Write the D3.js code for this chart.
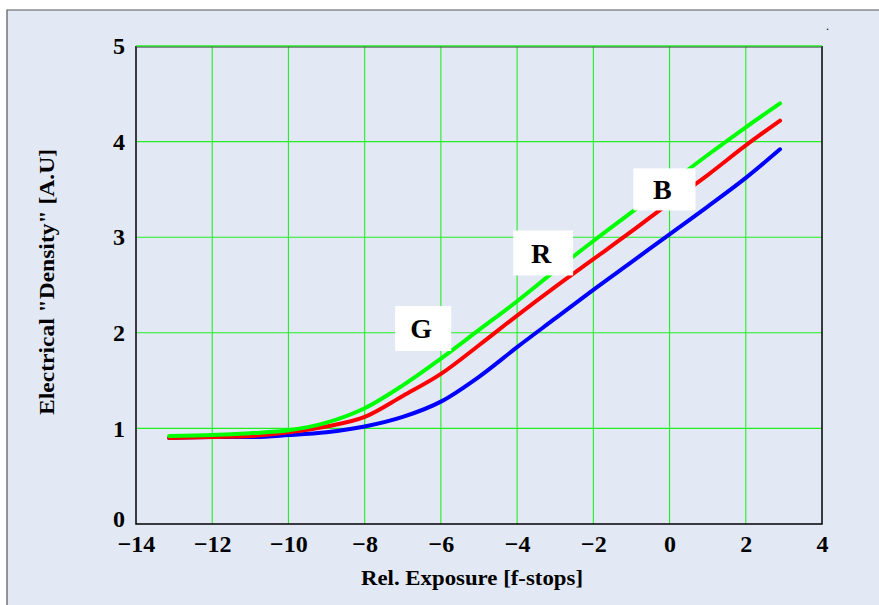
<!DOCTYPE html>
<html>
<head>
<meta charset="utf-8">
<script src="https://cdn.jsdelivr.net/npm/d3@7"></script>
<style>
  html, body { margin: 0; padding: 0; background: #ffffff; }
  svg { display: block; }
</style>
</head>
<body>
<script>
// Characteristic curves: electrical density vs. relative exposure, per channel
const exposure = [-13.13, -12, -11, -10, -9, -8, -7, -6, -5, -4, -3, -2, -1, 0, 1, 2, 2.9];
const greenDensity = [0.92, 0.93, 0.95, 0.98, 1.06, 1.21, 1.45, 1.73, 2.03, 2.33, 2.65, 2.96, 3.26, 3.56, 3.86, 4.15, 4.40];
const redDensity   = [0.90, 0.91, 0.92, 0.96, 1.02, 1.12, 1.34, 1.57, 1.87, 2.18, 2.48, 2.77, 3.06, 3.36, 3.65, 3.96, 4.22];
const blueDensity  = [0.90, 0.91, 0.91, 0.93, 0.96, 1.02, 1.12, 1.28, 1.54, 1.85, 2.15, 2.45, 2.74, 3.03, 3.32, 3.62, 3.92];

const xTicks = [-14, -12, -10, -8, -6, -4, -2, 0, 2, 4];
const yTicks = [0, 1, 2, 3, 4, 5];

// Channel tags: label, box corners (exposure, density)
const tagNames = ["G", "R", "B"];
const tagX0 = [-7.2, -4.1, -0.95];
const tagY0 = [2.28, 3.07, 3.72];
const tagX1 = [-5.73, -2.53, 0.68];
const tagY1 = [1.81, 2.6, 3.28];

const W = 879, H = 605;
const margin = { left: 136, right: 57, top: 46, bottom: 81 };

const svg = d3.select("body").append("svg")
  .attr("width", W).attr("height", H);

// page background and frame
svg.append("rect").attr("x", 7).attr("y", 10).attr("width", W).attr("height", H)
  .attr("fill", "#e2e9f5");
svg.append("path")
  .attr("d", `M7,${H} L7,10 L${W},10`)
  .attr("fill", "none").attr("stroke", "#555").attr("stroke-width", 1.2);

const x = d3.scaleLinear().domain([-14, 4]).range([margin.left, W - margin.right]);
const y = d3.scaleLinear().domain([0, 5]).range([H - margin.bottom, margin.top]);

const serif = "'Liberation Serif', 'Times New Roman', serif";

// grid
const grid = svg.append("g").attr("stroke", "#22ee22").attr("stroke-width", 1.1);
xTicks.filter(t => t > -14 && t < 4).forEach(t => {
  grid.append("line").attr("x1", x(t)).attr("x2", x(t))
    .attr("y1", y(0)).attr("y2", y(5));
});
yTicks.filter(t => t > 0).forEach(t => {
  grid.append("line").attr("x1", x(-14)).attr("x2", x(4))
    .attr("y1", y(t)).attr("y2", y(t));
});

// plot frame (left, bottom, right)
svg.append("path")
  .attr("d", `M${x(-14)},${y(5)} L${x(-14)},${y(0)} L${x(4)},${y(0)} L${x(4)},${y(5)}`)
  .attr("fill", "none").attr("stroke", "#000").attr("stroke-width", 1.5);
svg.append("line").attr("x1", x(-14)).attr("x2", x(4))
  .attr("y1", y(5) + 1).attr("y2", y(5) + 1)
  .attr("stroke", "#333").attr("stroke-width", 1);
svg.append("line").attr("x1", x(-14)).attr("x2", x(4))
  .attr("y1", y(5)).attr("y2", y(5))
  .attr("stroke", "#22ee22").attr("stroke-width", 1);

// axes (labels only, ticks hidden)
const minus = d => (d < 0 ? "\u2212" + Math.abs(d) : String(d));
const xAxis = svg.append("g").attr("transform", `translate(0,${y(0)})`)
  .call(d3.axisBottom(x).tickValues(xTicks).tickFormat(minus).tickSize(0).tickPadding(11));
xAxis.select(".domain").remove();
xAxis.selectAll("text").attr("font-family", serif).attr("font-weight", "bold")
  .attr("font-size", 24).attr("fill", "#000");

const yAxis = svg.append("g").attr("transform", `translate(${x(-14)},0)`)
  .call(d3.axisLeft(y).tickValues(yTicks).tickFormat(d3.format("d")).tickSize(0).tickPadding(11));
yAxis.select(".domain").remove();
yAxis.selectAll("text").attr("font-family", serif).attr("font-weight", "bold")
  .attr("font-size", 24).attr("fill", "#000");
// lift the origin label a little so it clears the first exposure label
yAxis.selectAll(".tick").filter(d => d === 0).select("text").attr("dy", "0.1em");

// curves
const series = [
  { vals: blueDensity, color: "#0000ff" },
  { vals: redDensity, color: "#ff0000" },
  { vals: greenDensity, color: "#00ff00" }
];
const line = d3.line().x(d => x(d[0])).y(d => y(d[1])).curve(d3.curveMonotoneX);
series.forEach(s => {
  svg.append("path")
    .datum(exposure.map((e, i) => [e, s.vals[i]]))
    .attr("d", line)
    .attr("fill", "none")
    .attr("stroke", s.color)
    .attr("stroke-width", 4)
    .attr("stroke-linecap", "round")
    .attr("stroke-linejoin", "round");
});

// channel tags
tagNames.forEach((name, i) => {
  const bx = x(tagX0[i]), by = y(tagY0[i]);
  const bw = x(tagX1[i]) - bx, bh = y(tagY1[i]) - by;
  svg.append("rect").attr("x", bx).attr("y", by).attr("width", bw).attr("height", bh)
    .attr("fill", "#fff");
  svg.append("text").attr("x", bx + bw / 2 - 2).attr("y", by + bh / 2 + 10)
    .attr("text-anchor", "middle")
    .attr("font-family", serif).attr("font-weight", "bold").attr("font-size", 28)
    .text(name);
});

// axis titles
svg.append("text")
  .attr("x", 472).attr("y", 585)
  .attr("text-anchor", "middle")
  .attr("font-family", serif).attr("font-weight", "bold").attr("font-size", 21)
  .attr("textLength", 222).attr("lengthAdjust", "spacingAndGlyphs")
  .text("Rel. Exposure [f-stops]");

svg.append("text")
  .attr("transform", "translate(54,282) rotate(-90)")
  .attr("text-anchor", "middle")
  .attr("font-family", serif).attr("font-weight", "bold").attr("font-size", 21)
  .attr("textLength", 266).attr("lengthAdjust", "spacingAndGlyphs")
  .text("Electrical \"Density\" [A.U]");

svg.append("text").attr("x", 826).attr("y", 30)
  .attr("font-family", serif).attr("font-size", 12).text(".");
</script>
</body>
</html>
